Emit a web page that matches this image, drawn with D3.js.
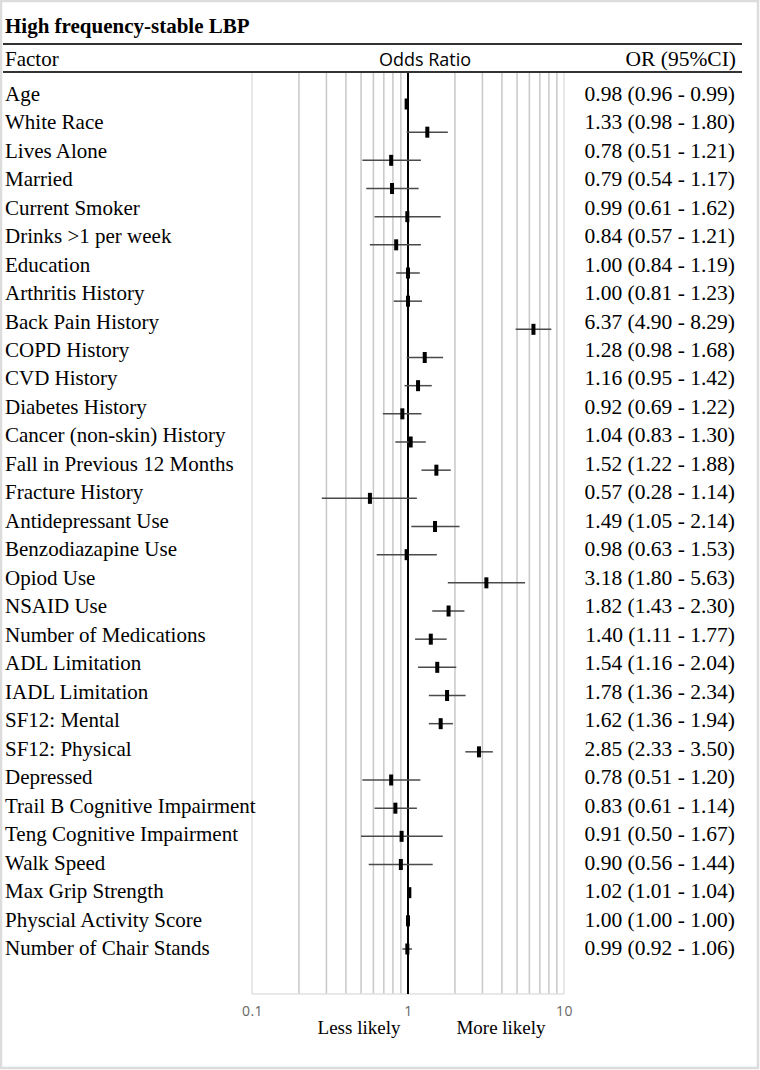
<!DOCTYPE html>
<html>
<head>
<meta charset="utf-8">
<script src="https://cdn.jsdelivr.net/npm/d3@7/dist/d3.min.js"></script>
<style>
  html, body { margin: 0; padding: 0; background: #fff; }
  svg { display: block; }
</style>
</head>
<body>
<script>
const factors = ["Age","White Race","Lives Alone","Married","Current Smoker","Drinks >1 per week","Education","Arthritis History","Back Pain History","COPD History","CVD History","Diabetes History","Cancer (non-skin) History","Fall in Previous 12 Months","Fracture History","Antidepressant Use","Benzodiazapine Use","Opiod Use","NSAID Use","Number of Medications","ADL Limitation","IADL Limitation","SF12: Mental","SF12: Physical","Depressed","Trail B Cognitive Impairment","Teng Cognitive Impairment","Walk Speed","Max Grip Strength","Physcial Activity Score","Number of Chair Stands"];
const orValues = [0.98,1.33,0.78,0.79,0.99,0.84,1.00,1.00,6.37,1.28,1.16,0.92,1.04,1.52,0.57,1.49,0.98,3.18,1.82,1.40,1.54,1.78,1.62,2.85,0.78,0.83,0.91,0.90,1.02,1.00,0.99];
const ciLow = [0.96,0.98,0.51,0.54,0.61,0.57,0.84,0.81,4.90,0.98,0.95,0.69,0.83,1.22,0.28,1.05,0.63,1.80,1.43,1.11,1.16,1.36,1.36,2.33,0.51,0.61,0.50,0.56,1.01,1.00,0.92];
const ciHigh = [0.99,1.80,1.21,1.17,1.62,1.21,1.19,1.23,8.29,1.68,1.42,1.22,1.30,1.88,1.14,2.14,1.53,5.63,2.30,1.77,2.04,2.34,1.94,3.50,1.20,1.14,1.67,1.44,1.04,1.00,1.06];
const tickValues = [0.1, 1, 10];
const gridValues = [0.1,0.2,0.3,0.4,0.5,0.6,0.7,0.8,0.9,1,2,3,4,5,6,7,8,9,10];

const W = 760, H = 1070;
const svg = d3.select("body").append("svg").attr("width", W).attr("height", H);

const serif = "'Liberation Serif','Times New Roman',Times,serif";
const sans = "'Open Sans','Liberation Sans',Arial,sans-serif";

// outer frame
svg.append("rect").attr("x", 1).attr("y", 1).attr("width", W - 3).attr("height", H - 3)
  .attr("fill", "none").attr("stroke", "#dcdcdc").attr("stroke-width", 2.5);

const x = d3.scaleLog().domain([0.1, 10]).range([252, 564]);
const idx = d3.range(factors.length);
const yMark = d3.scaleLinear().domain([0, factors.length - 1]).range([104, 949]);
const yText = d3.scaleLinear().domain([0, factors.length - 1]).range([100.7, 955]);
const gridTop = 73, gridBottom = 994;

// Title
svg.append("text").attr("x", 5).attr("y", 33).text("High frequency-stable LBP")
  .attr("font-family", serif).attr("font-weight", "bold").attr("font-size", 21).attr("fill", "#000");

// header lines
svg.append("line").attr("x1", 3).attr("x2", 742).attr("y1", 44).attr("y2", 44)
  .attr("stroke", "#333").attr("stroke-width", 2);
svg.append("line").attr("x1", 3).attr("x2", 742).attr("y1", 72).attr("y2", 72)
  .attr("stroke", "#333").attr("stroke-width", 2);

svg.append("text").attr("x", 5).attr("y", 66).text("Factor")
  .attr("font-family", serif).attr("font-size", 21).attr("fill", "#000");
svg.append("text").attr("x", 425).attr("y", 66).attr("text-anchor", "middle").text("Odds Ratio")
  .attr("font-family", sans).attr("font-size", 18).attr("fill", "#000");
svg.append("text").attr("x", 736).attr("y", 66).attr("text-anchor", "end").text("OR (95%CI)")
  .attr("font-family", serif).attr("font-size", 21.5).attr("fill", "#000");

// grid
svg.append("g").selectAll("line").data(gridValues).join("line")
  .attr("x1", d => x(d)).attr("x2", d => x(d))
  .attr("y1", gridTop).attr("y2", gridBottom)
  .attr("stroke", d => (d === 0.1 || d === 10) ? "#e0e0e0" : "#c8c8c8")
  .attr("stroke-width", 1.5);
svg.append("line").attr("x1", x(0.1)).attr("x2", x(10)).attr("y1", gridBottom).attr("y2", gridBottom)
  .attr("stroke", "#e0e0e0").attr("stroke-width", 1.5);

// axis tick labels
const axis = d3.axisBottom(x).tickValues(tickValues).tickFormat(d3.format("")).tickSize(0).tickPadding(0);
const ga = svg.append("g").attr("transform", `translate(0,${gridBottom + 12})`).call(axis);
ga.select(".domain").remove();
ga.selectAll("text").attr("font-family", sans).attr("font-size", 14).attr("fill", "#666")
  .attr("letter-spacing", 0.5).attr("dy", "0.71em");

// reference line
svg.append("line").attr("x1", x(1)).attr("x2", x(1)).attr("y1", gridTop).attr("y2", gridBottom)
  .attr("stroke", "#000").attr("stroke-width", 2);

// CI lines
svg.append("g").selectAll("line").data(idx).join("line")
  .attr("x1", i => x(ciLow[i])).attr("x2", i => x(ciHigh[i]))
  .attr("y1", i => yMark(i)).attr("y2", i => yMark(i))
  .attr("stroke", "#4a4a4a").attr("stroke-width", 1.5);

// markers
svg.append("g").selectAll("rect").data(idx).join("rect")
  .attr("x", i => x(orValues[i]) - 2).attr("width", 4)
  .attr("y", i => yMark(i) - 5.5).attr("height", 11)
  .attr("fill", "#000");

// labels
svg.append("g").selectAll("text").data(idx).join("text")
  .attr("x", 5).attr("y", i => yText(i)).text(i => factors[i])
  .attr("font-family", serif).attr("font-size", 21).attr("fill", "#000");

const f2 = d3.format(".2f");
svg.append("g").selectAll("text").data(idx).join("text")
  .attr("x", 735).attr("y", i => yText(i)).attr("text-anchor", "end")
  .text(i => `${f2(orValues[i])} (${f2(ciLow[i])} - ${f2(ciHigh[i])})`)
  .attr("font-family", serif).attr("font-size", 21.5).attr("fill", "#000");

// bottom labels
svg.append("text").attr("x", 359).attr("y", 1034).attr("text-anchor", "middle").text("Less likely")
  .attr("font-family", serif).attr("font-size", 19).attr("fill", "#000");
svg.append("text").attr("x", 501).attr("y", 1034).attr("text-anchor", "middle").text("More likely")
  .attr("font-family", serif).attr("font-size", 19).attr("fill", "#000");
</script>
</body>
</html>
